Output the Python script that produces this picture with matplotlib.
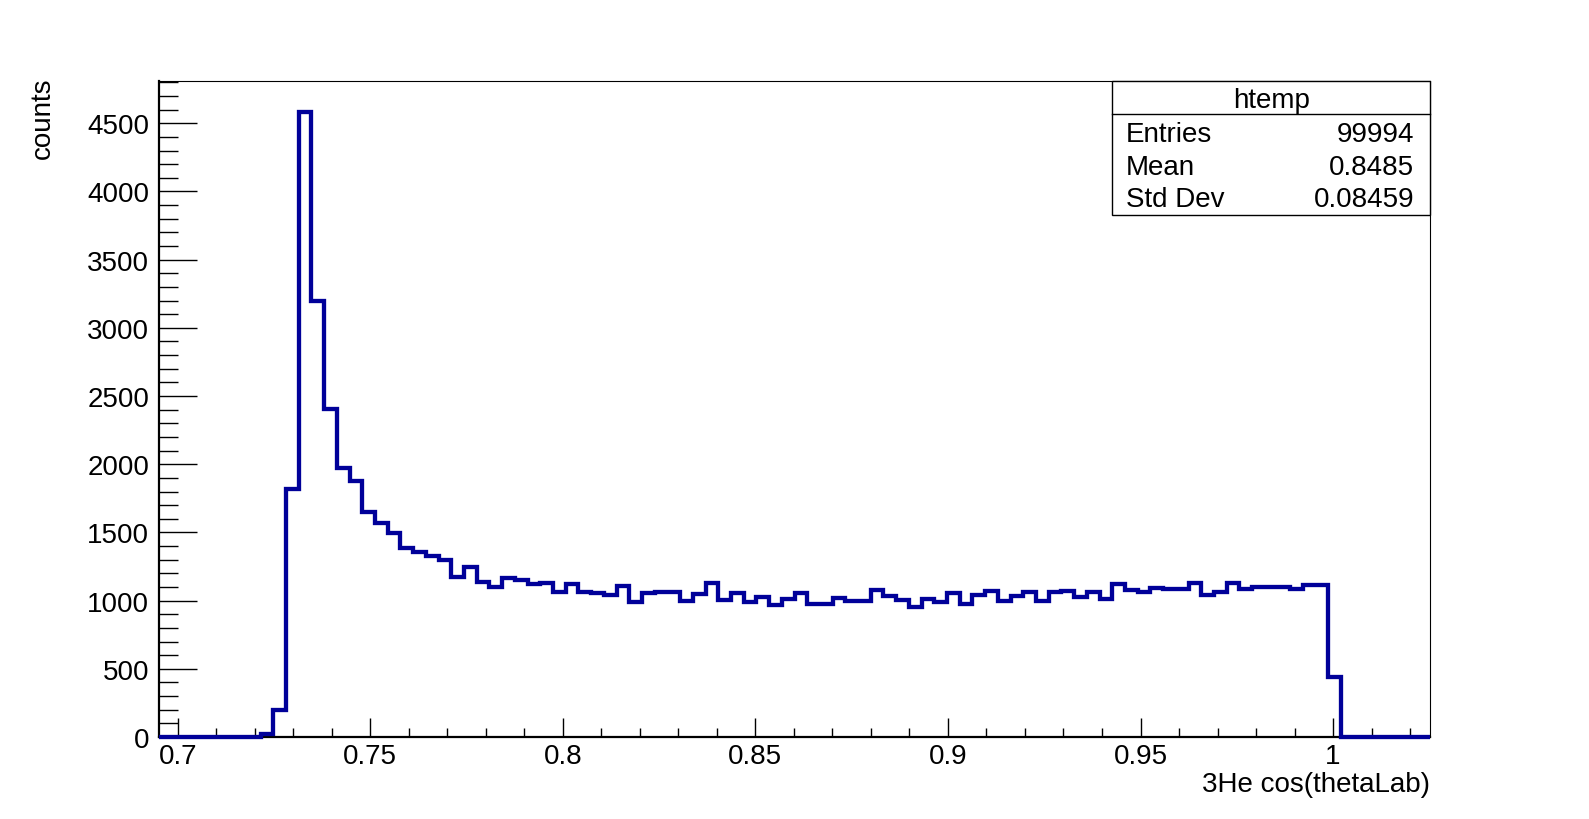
"""ROOT-style histogram of 3He cos(thetaLab)."""

import matplotlib
matplotlib.use("Agg")
import matplotlib.pyplot as plt
import numpy as np
from matplotlib.ticker import FuncFormatter, MultipleLocator

# histogram definition (100 bins)
x_min = 0.6951
x_max = 1.0252
counts = [
    0, 0, 0, 0, 0, 0, 0, 0, 20, 200,
    1815, 4581, 3198, 2403, 1970, 1874, 1651, 1571, 1499, 1388,
    1360, 1326, 1295, 1171, 1249, 1134, 1103, 1168, 1148, 1119,
    1129, 1065, 1119, 1063, 1053, 1041, 1107, 989, 1053, 1063,
    1063, 996, 1046, 1131, 1004, 1053, 989, 1028, 969, 1014,
    1058, 977, 977, 1016, 999, 999, 1075, 1031, 1004, 955,
    1009, 992, 1058, 972, 1043, 1068, 999, 1036, 1063, 999,
    1063, 1068, 1028, 1063, 1014, 1119, 1077, 1065, 1090, 1082,
    1082, 1131, 1043, 1065, 1131, 1082, 1102, 1102, 1102, 1085,
    1112, 1112, 443, 0, 0, 0, 0, 0, 0, 0,
]
stats_title = "htemp"
stats_names = ["Entries", "Mean", "Std Dev"]
stats_values = ["99994", "0.8485", "0.08459"]
x_label = "3He cos(thetaLab)"
y_label = "counts"

plt.rcParams["font.family"] = ["Liberation Sans", "DejaVu Sans"]
FS = 20

edges = np.linspace(x_min, x_max, len(counts) + 1)
y_top = max(counts) * 1.05

fig = plt.figure(figsize=(15.89, 8.20), dpi=100)
ax = fig.add_axes([0.1, 0.1, 0.8, 0.8])

ax.stairs(counts, edges, color="#000099", linewidth=3.1, baseline=0,
          clip_on=False, zorder=5)

ax.set_xlim(x_min, x_max)
ax.set_ylim(0, y_top)

ax.xaxis.set_major_locator(MultipleLocator(0.05))
ax.xaxis.set_minor_locator(MultipleLocator(0.01))
ax.yaxis.set_major_locator(MultipleLocator(500))
ax.yaxis.set_minor_locator(MultipleLocator(100))
ax.xaxis.set_major_formatter(FuncFormatter(lambda v, p: f"{v:g}"))
ax.yaxis.set_major_formatter(FuncFormatter(lambda v, p: f"{v:g}"))

ax.tick_params(axis="both", which="both", direction="in", width=1.0,
               labelsize=FS, top=False, right=False)
ax.tick_params(axis="x", which="major", length=13.7, pad=4.5)
ax.tick_params(axis="x", which="minor", length=6.8)
ax.tick_params(axis="y", which="major", length=27.4, pad=7)
ax.tick_params(axis="y", which="minor", length=13.7)

for side in ["left", "bottom"]:
    ax.spines[side].set_linewidth(1.6)
for side in ["top", "right"]:
    ax.spines[side].set_linewidth(0.8)

fig.text(0.9, 0.0425, x_label, ha="right", va="center", fontsize=FS)
fig.text(0.027, 0.905, y_label, ha="center", va="top", rotation=90, fontsize=FS)

# stats box
box = plt.Rectangle((0.7, 0.736), 0.2, 0.164, transform=fig.transFigure,
                    facecolor="white", edgecolor="black", linewidth=1.0,
                    zorder=10)
fig.add_artist(box)
fig.add_artist(plt.Line2D([0.7, 0.9], [0.860, 0.860], transform=fig.transFigure,
                          color="black", linewidth=1.0, zorder=11))
fig.text(0.8, 0.8765, stats_title, ha="center", va="center", fontsize=FS, zorder=12)
row_y = [0.8355, 0.7955, 0.7565]
for name, value, yy in zip(stats_names, stats_values, row_y):
    fig.text(0.7087, yy, name, ha="left", va="center", fontsize=FS, zorder=12)
    fig.text(0.890, yy, value, ha="right", va="center", fontsize=FS, zorder=12)

fig.savefig("out.png", dpi=100)
